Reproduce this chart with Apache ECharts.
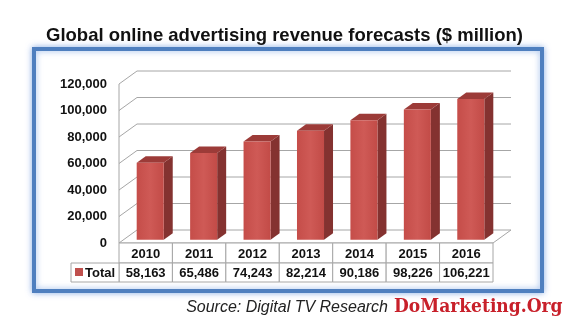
<!DOCTYPE html>
<html>
<head>
<meta charset="utf-8">
<script src="https://cdn.jsdelivr.net/npm/echarts@6/dist/echarts.min.js"></script>
<style>
html,body{margin:0;padding:0;background:#fff;}
#main{width:569px;height:327px;}
</style>
</head>
<body>
<div id="main"></div>
<script>
// ---- data ----
const years = ['2010', '2011', '2012', '2013', '2014', '2015', '2016'];
const totals = [58163, 65486, 74243, 82214, 90186, 98226, 106221];
const yTicks = [0, 20000, 40000, 60000, 80000, 100000, 120000];
const seriesName = 'Total';
const titleText = 'Global online advertising revenue forecasts ($ million)';
const sourceText = 'Source: Digital TV Research';
const brandText = 'DoMarketing.Org';

// ---- styling constants ----
const DX = 18, DY = -13;           // 3D depth offset
const GRID = '#a6a6a6';
const fmt = v => v.toLocaleString('en-US');

const chart = echarts.init(document.getElementById('main'), null, {renderer: 'canvas'});

function wallItem(params, api) {
  const cs = params.coordSys;
  const t = api.value(0);
  const y = api.coord([0, t])[1];
  const x0 = cs.x, x1 = cs.x + cs.width;
  const children = [];
  if (t === 0) {
    children.push({
      type: 'polygon',
      shape: {points: [[x0, y], [x1, y], [x1 + DX, y + DY], [x0 + DX, y + DY]]},
      style: {fill: '#fff', stroke: GRID, lineWidth: 1}
    });
    children.push({
      type: 'line',
      shape: {x1: x0, y1: y, x2: x0, y2: cs.y},
      style: {stroke: GRID, lineWidth: 1}
    });
  } else {
    children.push({
      type: 'polyline',
      shape: {points: [[x0, y], [x0 + DX, y + DY], [x1 + DX, y + DY]]},
      style: {fill: null, stroke: GRID, lineWidth: 1}
    });
  }
  return {type: 'group', children};
}

function barItem(params, api) {
  const cs = params.coordSys;
  const bw = cs.width / years.length;
  const i = api.value(0);
  const v = api.value(1);
  const p0 = api.coord([i, 0]);
  const pv = api.coord([i, v]);
  const cx = p0[0];
  const hw = bw * 0.253;
  const fx = DX * 0.25, fy = DY * 0.25;
  const bx = DX * 0.75, by = DY * 0.75;
  const l = cx - hw + fx, r = cx + hw + fx;
  const top = pv[1] + fy, bot = p0[1] + fy;
  return {
    type: 'group',
    children: [
      {
        type: 'polygon',
        shape: {points: [[r, top], [cx + hw + bx, pv[1] + by], [cx + hw + bx, p0[1] + by], [r, bot]]},
        style: {fill: '#843230'}
      },
      {
        type: 'polygon',
        shape: {points: [[l, top], [cx - hw + bx, pv[1] + by], [cx + hw + bx, pv[1] + by], [r, top]]},
        style: {fill: '#9c3b38'}
      },
      {
        type: 'rect',
        shape: {x: l, y: top, width: r - l, height: bot - top},
        style: {
          fill: new echarts.graphic.LinearGradient(0, 0, 1, 0, [
            {offset: 0, color: '#c54d49'},
            {offset: 0.5, color: '#cf5a56'},
            {offset: 1, color: '#c24b47'}
          ])
        }
      }
    ]
  };
}

function tableItem(params, api) {
  const cs = params.coordSys;
  const bw = cs.width / years.length;
  const i = api.value(0);
  const v = api.value(1);
  const p0 = api.coord([i, 0]);
  const xl = p0[0] - bw / 2;
  const y0 = p0[1];
  const h1 = 20, h2 = 19;
  return {
    type: 'group',
    children: [
      {type: 'rect', shape: {x: xl, y: y0, width: bw, height: h1},
       style: {fill: '#fff', stroke: GRID, lineWidth: 1}},
      {type: 'rect', shape: {x: xl, y: y0 + h1, width: bw, height: h2},
       style: {fill: '#fff', stroke: GRID, lineWidth: 1}},
      {type: 'text', x: p0[0], y: y0 + h1 / 2 + 1,
       style: {text: years[i], font: 'bold 13px "Liberation Sans", Arial, sans-serif',
               fill: '#111', align: 'center', verticalAlign: 'middle'}},
      {type: 'text', x: p0[0], y: y0 + h1 + h2 / 2 + 1,
       style: {text: fmt(v), font: 'bold 13px "Liberation Sans", Arial, sans-serif',
               fill: '#111', align: 'center', verticalAlign: 'middle'}}
    ]
  };
}

const option = {
  animation: false,
  backgroundColor: '#fff',
  title: {
    text: titleText,
    left: 'center',
    top: 21,
    textStyle: {fontFamily: '"Liberation Sans", Arial, sans-serif', fontWeight: 'bold', fontSize: 18.5, color: '#111'}
  },
  graphic: [
    {
      type: 'rect', z: -1,
      shape: {x: 34, y: 49, width: 508, height: 242},
      style: {fill: '#fff', stroke: '#4f7fbf', lineWidth: 4,
              shadowBlur: 6, shadowColor: 'rgba(90,140,220,0.6)'}
    },
    {
      type: 'rect', z: 5,
      shape: {x: 71, y: 263, width: 48, height: 19},
      style: {fill: '#fff', stroke: GRID, lineWidth: 1}
    },
    {
      type: 'rect', z: 6,
      shape: {x: 75, y: 268, width: 8, height: 8},
      style: {fill: '#c0504d'}
    },
    {
      type: 'text', z: 6, x: 85, y: 273,
      style: {text: seriesName, font: 'bold 13px "Liberation Sans", Arial, sans-serif',
              fill: '#111', verticalAlign: 'middle'}
    },
    {
      type: 'text', x: 388, y: 308,
      style: {text: sourceText, font: 'italic 16px "Liberation Sans", Arial, sans-serif',
              fill: '#222', align: 'right', verticalAlign: 'middle'}
    },
    {
      type: 'text', x: 394, y: 307, scaleX: 0.9, scaleY: 1, originX: 0, originY: 0,
      style: {text: brandText, font: 'bold 19px "DejaVu Serif", serif',
              fill: '#c8202a', align: 'left', verticalAlign: 'middle'}
    }
  ],
  grid: {left: 119, right: 76, top: 84, bottom: 84},
  xAxis: {
    type: 'category',
    data: years,
    axisLine: {show: false},
    axisTick: {show: false},
    axisLabel: {show: false},
    splitLine: {show: false}
  },
  yAxis: {
    type: 'value',
    min: 0,
    max: 120000,
    interval: 20000,
    axisLine: {show: false},
    axisTick: {show: false},
    splitLine: {show: false},
    axisLabel: {
      margin: 12,
      formatter: v => fmt(v),
      fontFamily: '"Liberation Sans", Arial, sans-serif',
      fontWeight: 'bold',
      fontSize: 13,
      color: '#111'
    }
  },
  series: [
    {
      type: 'custom', name: 'walls', z: 1, silent: true,
      renderItem: wallItem,
      encode: {y: 0},
      data: yTicks.map(t => [t])
    },
    {
      type: 'custom', name: 'table', z: 2, silent: true,
      renderItem: tableItem,
      encode: {x: 0, y: 1},
      data: totals.map((v, i) => [i, v])
    },
    {
      type: 'custom', name: seriesName, z: 3,
      renderItem: barItem,
      encode: {x: 0, y: 1},
      data: totals.map((v, i) => [i, v])
    }
  ]
};
chart.setOption(option);
</script>
</body>
</html>
